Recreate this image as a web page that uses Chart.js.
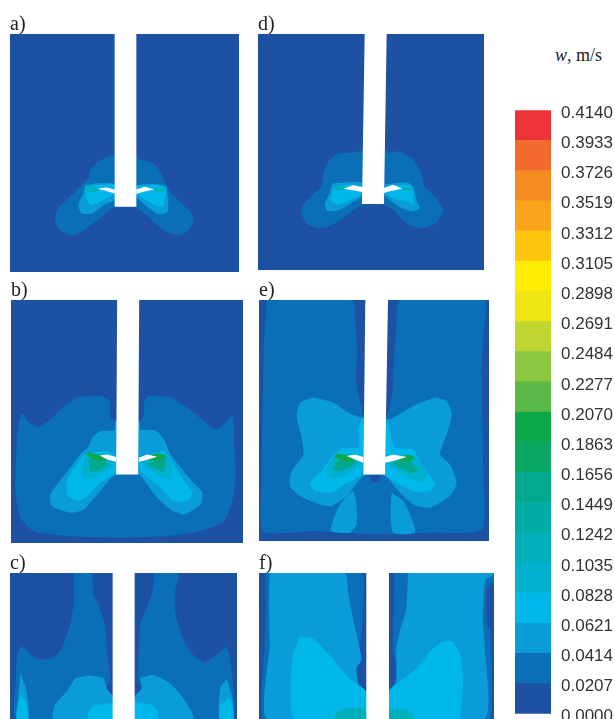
<!DOCTYPE html>
<html>
<head>
<meta charset="utf-8">
<script src="https://cdn.jsdelivr.net/npm/chart.js@4"></script>
<style>
html, body { margin: 0; padding: 0; background: #fff; overflow: hidden; width: 615px; height: 719px; }
canvas { position: absolute; filter: blur(0.5px); }
#unit { position: absolute; left: 555px; top: 45px; font: 18px 'Liberation Serif', serif; color: #222; }
</style>
</head>
<body>
<div id="unit"><i>w</i>, m/s</div>
<canvas id="panel-a"></canvas>
<canvas id="panel-b"></canvas>
<canvas id="panel-c"></canvas>
<canvas id="panel-d"></canvas>
<canvas id="panel-e"></canvas>
<canvas id="panel-f"></canvas>
<canvas id="colorbar"></canvas>
<script>
// velocity levels of the colour bar, bottom to top
const levelValues = [0, 0.0207, 0.0414, 0.0621, 0.0828, 0.1035, 0.1242, 0.1449, 0.1656, 0.1863, 0.2070,
    0.2277, 0.2484, 0.2691, 0.2898, 0.3105, 0.3312, 0.3519, 0.3726, 0.3933, 0.4140];
const levelColors = ['#1d51a3', '#0b6fb8', '#0a9bd9', '#00b7ea', '#00b1cf', '#00afba', '#00ada4', '#03a88e',
    '#0aa763', '#0ba84a', '#5cb947', '#8dc63f', '#bfd630', '#eee512', '#ffec03', '#fec50f', '#faa21a',
    '#f68b22', '#f26a2e', '#ee3338'];

// contours are [x, y] in each panel's own field units
const aOuter = [[30, 73], [717, 73], [717, 785], [30, 785]];
const aShaft = [[344, 73], [409, 73], [409, 590], [344, 590]];
const aBladeL = [[292, 536], [320, 532], [344, 538], [344, 550], [320, 543]];
const aBladeR = [[409, 538], [435, 530], [462, 538], [430, 545], [409, 552]];
const aLevel1 = [[335, 435], [295, 455], [270, 480], [265, 505], [240, 530], [210, 560], [175, 595], [165, 630], [180, 660], [220, 675], [260, 655], [300, 625], [340, 592], [410, 592], [445, 620], [490, 660], [530, 675], [560, 665], [580, 635], [575, 610], [540, 575], [510, 545], [490, 505], [475, 475], [450, 455], [420, 450], [409, 435]];
const aLevel2L = [[255, 525], [250, 550], [235, 585], [245, 610], [275, 610], [310, 585], [344, 568], [344, 522], [290, 520]];
const aLevel2R = [[409, 525], [460, 522], [498, 530], [505, 600], [495, 610], [470, 610], [430, 580], [409, 560]];
const aLevel3L = [[255, 530], [260, 570], [275, 585], [310, 570], [344, 550], [344, 525], [290, 525]];
const aLevel3R = [[409, 530], [470, 525], [495, 535], [497, 550], [490, 590], [465, 585], [430, 565], [409, 550]];
const aLevel4L = [[255, 530], [260, 543], [285, 545], [298, 538], [280, 527]];
const aLevel4R = [[465, 532], [498, 535], [490, 546], [468, 544]];

const bOuter = [[32, 76], [727, 76], [727, 806], [32, 806]];
const bShaft = [[350, 76], [416, 76], [413, 600], [347, 600]];
const bBladeL = [[298, 543], [320, 540], [347, 548], [347, 562], [320, 555]];
const bBladeR = [[415, 550], [440, 540], [470, 547], [440, 556], [415, 562]];
const bLevel1 = [[45, 600], [50, 500], [55, 450], [65, 415], [85, 445], [115, 458], [150, 435], [190, 395], [235, 368], [300, 365], [325, 375], [330, 400], [330, 430], [350, 440], [416, 440], [430, 420], [430, 385], [445, 365], [510, 370], [560, 400], [610, 440], [650, 465], [695, 425], [700, 500], [705, 600], [695, 680], [670, 740], [600, 770], [500, 785], [350, 790], [200, 785], [100, 770], [60, 730], [45, 650]];
const bLevel2 = [[345, 440], [340, 468], [300, 470], [275, 490], [265, 515], [240, 540], [190, 605], [150, 660], [155, 695], [210, 715], [250, 705], [295, 655], [340, 605], [415, 600], [465, 665], [510, 705], [550, 720], [600, 690], [605, 655], [565, 610], [510, 540], [490, 495], [465, 468], [420, 465], [416, 440]];
const bLevel3L = [[250, 540], [200, 615], [200, 660], [230, 680], [255, 670], [300, 625], [345, 595], [348, 550], [320, 530]];
const bLevel3R = [[416, 550], [490, 530], [510, 555], [555, 625], [575, 655], [560, 680], [520, 680], [480, 640], [420, 590]];
const bLevel4L = [[255, 545], [240, 590], [255, 615], [290, 605], [340, 575], [345, 550], [310, 535]];
const bLevel4R = [[420, 560], [470, 535], [500, 545], [515, 575], [510, 615], [480, 610], [440, 580]];
const bLevel6L = [[265, 555], [270, 590], [290, 590], [320, 568], [300, 552]];
const bLevel6R = [[470, 560], [495, 552], [490, 590], [470, 585], [440, 568]];
const bLevel9L = [[255, 540], [280, 555], [310, 560], [330, 550], [290, 540], [265, 535]];
const bLevel9R = [[435, 555], [470, 560], [500, 545], [470, 537], [445, 545]];

const cOuter = [[30, 85], [711, 85], [711, 522], [30, 522]];
const cShaft = [[338, 85], [404, 85], [404, 522], [338, 522]];
const cLevel1L = [[222, 85], [275, 85], [280, 150], [298, 185], [315, 245], [322, 330], [332, 400], [318, 430], [338, 458], [338, 522], [50, 522], [48, 400], [50, 340], [65, 305], [100, 335], [125, 345], [165, 335], [190, 300], [210, 240], [222, 170]];
const cLevel1R = [[462, 85], [535, 85], [525, 140], [525, 200], [545, 270], [570, 320], [612, 352], [655, 325], [680, 305], [695, 380], [700, 522], [404, 522], [404, 455], [425, 440], [415, 400], [420, 240], [440, 190], [460, 130]];
const cLevel2A = [[62, 385], [55, 450], [50, 522], [85, 522], [80, 440]];
const cLevel2B = [[225, 400], [270, 392], [310, 400], [320, 430], [338, 455], [338, 522], [160, 522], [165, 480], [200, 440]];
const cLevel2C = [[420, 400], [460, 390], [510, 415], [550, 460], [580, 522], [404, 522], [404, 455], [425, 430]];
const cLevel2D = [[680, 402], [660, 430], [660, 522], [700, 522], [695, 450]];
const cLevel3A = [[60, 450], [50, 522], [85, 522], [78, 470]];
const cLevel3B = [[280, 480], [265, 505], [265, 522], [338, 522], [338, 475], [310, 478]];
const cLevel3C = [[404, 470], [450, 478], [470, 495], [475, 522], [404, 522]];
const cLevel3D = [[660, 480], [658, 522], [700, 522], [690, 460]];

const dOuter = [[25, 73], [703, 73], [703, 781], [25, 781]];
const dShaft = [[345, 73], [411, 73], [403, 583], [337, 583]];
const dBladeL = [[282, 537], [310, 527], [340, 533], [340, 548], [310, 542]];
const dBladeR = [[403, 535], [430, 525], [457, 537], [420, 545], [403, 550]];
const dLevel1 = [[330, 425], [300, 430], [265, 432], [235, 455], [222, 490], [215, 530], [190, 555], [160, 585], [155, 610], [170, 640], [205, 655], [240, 650], [280, 625], [320, 595], [340, 585], [400, 585], [430, 600], [470, 640], [515, 655], [560, 640], [580, 600], [560, 565], [525, 530], [515, 490], [490, 450], [450, 425], [412, 430], [412, 420]];
const dLevel2L = [[248, 522], [240, 550], [225, 585], [235, 605], [270, 600], [305, 580], [335, 560], [340, 520], [290, 518]];
const dLevel2R = [[405, 525], [470, 518], [490, 530], [500, 570], [510, 595], [490, 605], [455, 595], [420, 570], [405, 555]];
const dLevel3L = [[250, 530], [245, 575], [265, 585], [300, 570], [335, 555], [340, 530], [290, 525]];
const dLevel3R = [[405, 530], [470, 525], [487, 535], [490, 585], [475, 575], [440, 570], [405, 550]];
const dLevel4L = [[250, 530], [255, 541], [280, 543], [285, 534], [270, 527]];
const dLevel4R = [[460, 532], [485, 535], [480, 545], [462, 543]];

const eOuter = [[27, 76], [717, 76], [717, 800], [27, 800]];
const eShaft = [[346, 76], [414, 76], [405, 600], [340, 600]];
const eBladeL = [[290, 545], [315, 540], [340, 548], [340, 565], [315, 555]];
const eBladeR = [[405, 548], [430, 540], [470, 548], [430, 560], [405, 565]];
const eLevel1 = [[50, 76], [47, 130], [42, 200], [38, 400], [35, 600], [38, 770], [200, 770], [370, 780], [530, 775], [695, 765], [700, 600], [695, 300], [700, 180], [705, 76], [450, 76], [440, 150], [432, 250], [428, 340], [418, 400], [410, 430], [410, 600], [340, 600], [340, 430], [330, 380], [318, 320], [322, 230], [315, 130], [308, 76]];
const eLevel2 = [[335, 430], [295, 415], [250, 385], [190, 370], [150, 385], [140, 425], [155, 490], [160, 540], [125, 590], [120, 635], [150, 665], [210, 690], [245, 695], [295, 660], [340, 605], [405, 605], [445, 650], [490, 690], [540, 700], [600, 665], [620, 625], [600, 570], [570, 540], [590, 480], [605, 420], [590, 380], [555, 370], [490, 395], [420, 435], [410, 435]];
const eLevel2A = [[310, 650], [285, 670], [260, 710], [243, 770], [300, 775], [320, 750], [318, 680]];
const eLevel2B = [[425, 655], [460, 680], [480, 720], [495, 775], [430, 775], [422, 720]];
const eSpot = [[360, 610], [370, 625], [390, 620], [385, 605]];
const eLevel3L = [[335, 430], [325, 470], [325, 520], [280, 520], [250, 540], [215, 590], [180, 625], [195, 650], [245, 655], [290, 625], [335, 600], [340, 430]];
const eLevel3R = [[410, 430], [420, 470], [435, 520], [490, 525], [515, 570], [555, 625], [540, 650], [490, 650], [440, 625], [405, 600]];
const eLevel4L = [[250, 550], [225, 590], [245, 615], [280, 605], [330, 575], [335, 545], [300, 535]];
const eLevel4R = [[410, 555], [470, 540], [500, 555], [530, 595], [520, 625], [485, 615], [430, 580]];
const eLevel6L = [[260, 558], [250, 585], [270, 590], [320, 565], [295, 552]];
const eLevel6R = [[420, 565], [470, 555], [505, 590], [480, 595], [440, 575]];
const eLevel9L = [[250, 546], [275, 558], [305, 560], [322, 552], [285, 542], [262, 538]];
const eLevel9R = [[440, 555], [475, 562], [495, 548], [470, 542]];

const fOuter = [[28, 83], [733, 83], [733, 522], [28, 522]];
const fShaft = [[350, 83], [418, 83], [418, 522], [350, 522]];
const fLevel1L = [[48, 83], [333, 83], [340, 200], [332, 300], [318, 365], [328, 430], [350, 442], [350, 522], [40, 522], [45, 300], [50, 170]];
const fLevel1R = [[435, 83], [733, 83], [733, 110], [712, 125], [708, 170], [712, 235], [722, 260], [722, 522], [418, 522], [418, 440], [435, 420], [440, 360], [430, 310], [432, 200]];
const fLevel2L = [[60, 83], [285, 83], [295, 140], [312, 230], [330, 310], [335, 345], [320, 370], [330, 430], [350, 442], [350, 522], [52, 522], [60, 300], [58, 170]];
const fLevel2R = [[475, 83], [733, 83], [733, 90], [710, 100], [702, 140], [700, 230], [705, 300], [705, 522], [418, 522], [420, 435], [440, 410], [440, 360], [440, 310], [450, 260], [470, 190]];
const fLevel3L = [[150, 275], [130, 330], [122, 430], [135, 522], [350, 522], [350, 440], [300, 400], [240, 330], [190, 280]];
const fLevel3R = [[420, 435], [450, 410], [500, 370], [540, 320], [580, 290], [610, 290], [635, 340], [640, 410], [635, 490], [630, 522], [418, 522]];
const fLevel4L = [[250, 522], [270, 495], [300, 490], [340, 490], [350, 500], [350, 522]];
const fLevel4R = [[418, 495], [450, 492], [480, 500], [495, 522], [418, 522]];

const WHITE = '#ffffff';

function polygon(points, color, tension) {
    const closed = points.concat([points[0]]);
    return {
        data: closed.map(p => ({x: p[0], y: p[1]})),
        showLine: true,
        fill: 'shape',
        backgroundColor: color,
        borderWidth: 0,
        pointRadius: 0,
        tension: tension,
    };
}

function band(level, points) {
    return polygon(points, levelColors[level], 0.2);
}

function drawPanel(id, title, box, xRange, yRange, layers) {
    const titleHeight = 20;
    const canvas = document.getElementById(id);
    canvas.width = box[2];
    canvas.height = box[3] + titleHeight;
    canvas.style.left = box[0] + 'px';
    canvas.style.top = (box[1] - titleHeight) + 'px';
    new Chart(canvas, {
        type: 'scatter',
        // first dataset is painted last, so the list goes top layer first
        data: {datasets: layers.slice().reverse()},
        options: {
            responsive: false,
            animation: false,
            layout: {padding: 0},
            plugins: {
                legend: {display: false},
                tooltip: {enabled: false},
                title: {
                    display: true,
                    text: title,
                    align: 'start',
                    color: '#222',
                    padding: {top: 2, bottom: 0},
                    font: {family: "'Liberation Serif'", size: 20, weight: 'normal', lineHeight: 0.9},
                },
            },
            scales: {
                x: {display: false, min: xRange[0], max: xRange[1]},
                y: {display: false, min: yRange[0], max: yRange[1], reverse: true},
            },
        },
    });
}

drawPanel('panel-a', 'a)', [10, 34, 229, 238], [30, 717], [73, 785], [
    polygon(aOuter, levelColors[0], 0),
    band(1, aLevel1), band(2, aLevel2L), band(2, aLevel2R), band(3, aLevel3L), band(3, aLevel3R),
    band(5, aLevel4L), band(5, aLevel4R),
    polygon(aShaft, WHITE, 0), polygon(aBladeL, WHITE, 0), polygon(aBladeR, WHITE, 0),
]);
drawPanel('panel-b', 'b)', [11, 300, 232, 243], [32, 727], [76, 806], [
    polygon(bOuter, levelColors[0], 0),
    band(1, bLevel1), band(2, bLevel2), band(3, bLevel3L), band(3, bLevel3R), band(4, bLevel4L), band(4, bLevel4R),
    band(7, bLevel6L), band(7, bLevel6R), band(9, bLevel9L), band(9, bLevel9R),
    polygon(bShaft, WHITE, 0), polygon(bBladeL, WHITE, 0), polygon(bBladeR, WHITE, 0),
]);
drawPanel('panel-c', 'c)', [10, 573, 227, 146], [30, 711], [85, 522], [
    polygon(cOuter, levelColors[0], 0),
    band(1, cLevel1L), band(1, cLevel1R),
    band(2, cLevel2A), band(2, cLevel2B), band(2, cLevel2C), band(2, cLevel2D),
    band(3, cLevel3A), band(3, cLevel3B), band(3, cLevel3C), band(3, cLevel3D),
    polygon(cShaft, WHITE, 0),
]);
drawPanel('panel-d', 'd)', [258, 34, 226, 236], [25, 703], [73, 781], [
    polygon(dOuter, levelColors[0], 0),
    band(1, dLevel1), band(2, dLevel2L), band(2, dLevel2R), band(3, dLevel3L), band(3, dLevel3R),
    band(5, dLevel4L), band(5, dLevel4R),
    polygon(dShaft, WHITE, 0), polygon(dBladeL, WHITE, 0), polygon(dBladeR, WHITE, 0),
]);
drawPanel('panel-e', 'e)', [259, 300, 230, 241], [27, 717], [76, 800], [
    polygon(eOuter, levelColors[0], 0),
    band(1, eLevel1), band(2, eLevel2), band(2, eLevel2A), band(2, eLevel2B), band(0, eSpot),
    band(3, eLevel3L), band(3, eLevel3R), band(4, eLevel4L), band(4, eLevel4R),
    band(7, eLevel6L), band(7, eLevel6R), band(9, eLevel9L), band(9, eLevel9R),
    polygon(eShaft, WHITE, 0), polygon(eBladeL, WHITE, 0), polygon(eBladeR, WHITE, 0),
]);
drawPanel('panel-f', 'f)', [259, 573, 235, 146], [28, 733], [83, 522], [
    polygon(fOuter, levelColors[0], 0),
    band(1, fLevel1L), band(1, fLevel1R), band(2, fLevel2L), band(2, fLevel2R),
    band(3, fLevel3L), band(3, fLevel3R), band(5, fLevel4L), band(5, fLevel4R),
    polygon(fShaft, WHITE, 0),
]);

function drawColorbar() {
    const canvas = document.getElementById('colorbar');
    canvas.width = 100;
    canvas.height = 644;
    canvas.style.left = '515px';
    canvas.style.top = '90px';
    new Chart(canvas, {
        type: 'bar',
        data: {
            labels: ['w'],
            datasets: levelColors.map((color, i) => ({
                data: [[levelValues[i], levelValues[i + 1]]],
                backgroundColor: color,
                borderWidth: 0,
                grouped: false,
                barPercentage: 1,
                categoryPercentage: 1,
            })),
        },
        options: {
            responsive: false,
            animation: false,
            layout: {padding: 0},
            plugins: {legend: {display: false}, tooltip: {enabled: false}},
            scales: {
                x: {display: false},
                y: {
                    position: 'right',
                    min: 0,
                    max: 0.414,
                    border: {display: false},
                    grid: {display: false, drawTicks: false},
                    afterBuildTicks: axis => { axis.ticks = levelValues.map(value => ({value})); },
                    afterFit: axis => { axis.width = 64; },
                    ticks: {
                        autoSkip: false,
                        padding: 10,
                        labelOffset: 3,
                        color: '#333',
                        font: {family: "'Liberation Sans'", size: 17},
                        callback: value => value.toFixed(4),
                    },
                },
            },
        },
    });
}

drawColorbar();
</script>
</body>
</html>
